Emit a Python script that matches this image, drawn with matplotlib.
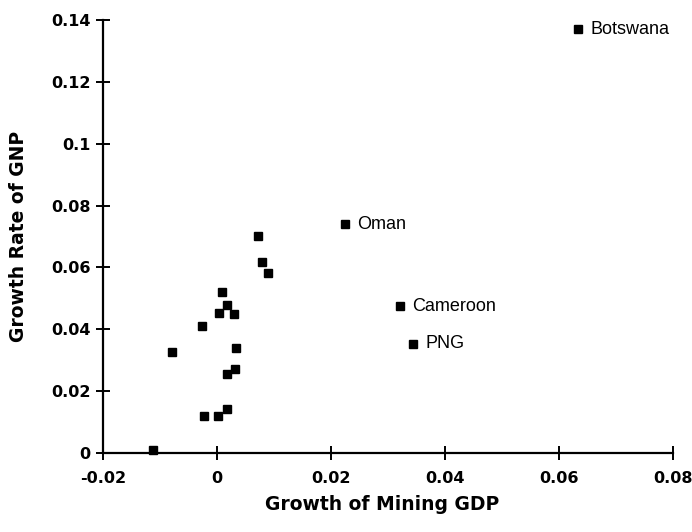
import matplotlib
matplotlib.use("Agg")
import matplotlib.pyplot as plt

# unlabeled countries
x_vals = [0.0072, 0.0079, 0.0089, 0.0009, 0.0017, 0.0004, 0.0030, -0.0026, 0.0033,
          -0.0079, 0.0031, 0.0017, 0.0017, -0.0022, 0.0001, -0.0112]
y_vals = [0.0703, 0.0618, 0.0583, 0.0522, 0.0480, 0.0454, 0.0448, 0.0412, 0.0339,
          0.0326, 0.0271, 0.0254, 0.0143, 0.0119, 0.0119, 0.0010]

# labeled countries
lab_names = ["Botswana", "Oman", "Cameroon", "PNG"]
lab_x = [0.0634, 0.0224, 0.0321, 0.0344]
lab_y = [0.1370, 0.0739, 0.0474, 0.0354]

x_ticks = [-0.02, 0, 0.02, 0.04, 0.06, 0.08]
x_tick_labels = ["-0.02", "0", "0.02", "0.04", "0.06", "0.08"]
y_ticks = [0, 0.02, 0.04, 0.06, 0.08, 0.1, 0.12, 0.14]
y_tick_labels = ["0", "0.02", "0.04", "0.06", "0.08", "0.1", "0.12", "0.14"]

fig = plt.figure(figsize=(6.92, 5.32), dpi=100)
ax = fig.add_axes([0.1488, 0.1485, 0.8237, 0.8139])

ax.plot(x_vals + lab_x, y_vals + lab_y, linestyle="none", marker="s",
        markersize=5.5, color="black", clip_on=False)

for n, xx, yy in zip(lab_names, lab_x, lab_y):
    ax.annotate(n, (xx, yy), xytext=(9, 0), textcoords="offset points",
                va="center", ha="left", fontsize=13, family="Liberation Sans")

ax.set_xlim(-0.02, 0.08)
ax.set_ylim(0, 0.14)
for s in ["top", "right"]:
    ax.spines[s].set_visible(False)
for s in ["left", "bottom"]:
    ax.spines[s].set_linewidth(1.6)

ax.set_xticks(x_ticks)
ax.set_xticklabels(x_tick_labels)
ax.set_yticks(y_ticks)
ax.set_yticklabels(y_tick_labels)
ax.tick_params(direction="inout", length=10, width=1.4, labelsize=11.5)
ax.tick_params(axis="x", pad=8)
ax.tick_params(axis="y", pad=4)
for lbl in ax.get_xticklabels() + ax.get_yticklabels():
    lbl.set_fontweight("bold")

ax.set_xlabel("Growth of Mining GDP", fontsize=13.5, fontweight="bold")
ax.set_ylabel("Growth Rate of GNP", fontsize=13.5, fontweight="bold")
ax.xaxis.set_label_coords(0.489, -0.12)
ax.yaxis.set_label_coords(-0.148, 0.5)
ax.xaxis.label.set_va("center")
ax.yaxis.label.set_va("center")

fig.savefig("out.png", dpi=100)
